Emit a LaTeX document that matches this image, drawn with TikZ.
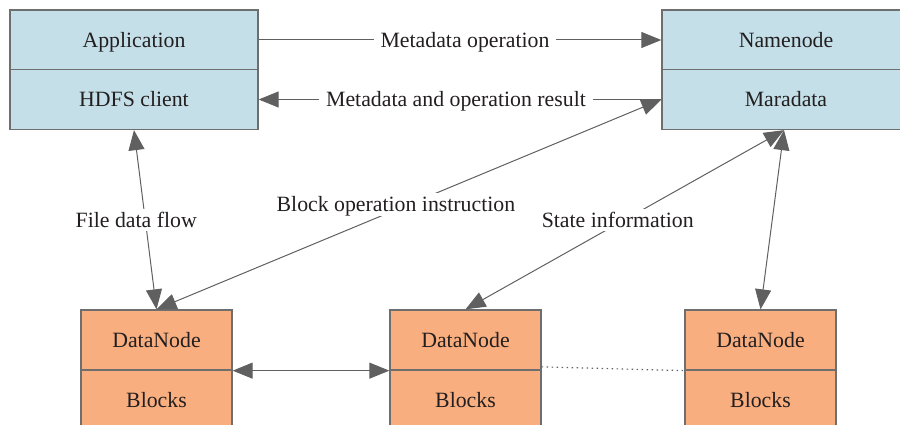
\documentclass[tikz,border=0pt]{standalone}
\usepackage{fontspec}
\setmainfont{Liberation Serif}
\usetikzlibrary{arrows.meta}
\definecolor{boxblue}{HTML}{C4DFE8}
\definecolor{boxorange}{HTML}{F8AE7E}
\definecolor{edgegray}{HTML}{6E6E6E}
\definecolor{arrgray}{HTML}{606060}
\definecolor{txt}{HTML}{231F20}
\tikzset{
  cell/.style={draw=edgegray, line width=1.3pt, minimum height=60pt, inner sep=0pt, text=txt, text height=14.5pt, text depth=0pt, font=\fontsize{21.8}{25}\selectfont},
  bluecell/.style={cell, fill=boxblue, minimum width=248pt},
  orangecell/.style={cell, fill=boxorange, minimum width=151pt},
  conn/.style={draw=arrgray, line width=1pt},
  arr/.style={conn, -{Triangle[length=20pt,width=16pt]}},
  arrboth/.style={conn, {Triangle[length=20pt,width=16pt]}-{Triangle[length=20pt,width=16pt]}},
  lbl/.style={fill=white, text=txt, inner xsep=7pt, inner ysep=4pt, text height=14.5pt, text depth=0pt, font=\fontsize{21.8}{25}\selectfont},
  dotline/.style={draw=arrgray, line width=1.2pt, dash pattern=on 1.5pt off 3.5pt}
}
\begin{document}
\begin{tikzpicture}[x=1pt, y=-1pt]
\useasboundingbox (0,0) rectangle (900,425);
\clip (0,0) rectangle (900,425);
% top left
\node[bluecell] (app) at (134,40) {Application};
\node[bluecell] (hdfs) at (134,99.5) {HDFS client};
% top right
\node[bluecell] (nn) at (786,40) {Namenode};
\node[bluecell] (md) at (786,99.5) {Maradata};
% data nodes
\node[orangecell] (dn1) at (156.5,340) {DataNode};
\node[orangecell] (bk1) at (156.5,400) {Blocks};
\node[orangecell] (dn2) at (465.5,340) {DataNode};
\node[orangecell] (bk2) at (465.5,400) {Blocks};
\node[orangecell] (dn3) at (760.5,340) {DataNode};
\node[orangecell] (bk3) at (760.5,400) {Blocks};
% connectors
\draw[arr] (app.east) -- node[lbl, xshift=5pt] {Metadata operation} (nn.west);
\draw[arr] (md.west) -- node[lbl, xshift=-4pt] {Metadata and operation result} (hdfs.east);
\draw[arrboth] ([xshift=-2pt]md.south) -- (dn3.north);
\draw[arrboth] (hdfs.south) -- node[lbl, xshift=-9pt] {File data flow} (dn1.north);
\draw[arrboth] (md.west) -- node[lbl, xshift=-13pt] {Block operation instruction} (dn1.north);
\draw[arrboth] ([xshift=-2pt]md.south) -- node[lbl, xshift=-7pt] {State information} (dn2.north);
\draw[arrboth] (dn1.south east) -- (dn2.south west);
\draw[dotline] ([yshift=2.5pt]bk2.north east) -- (dn3.south west);
\end{tikzpicture}
\end{document}
